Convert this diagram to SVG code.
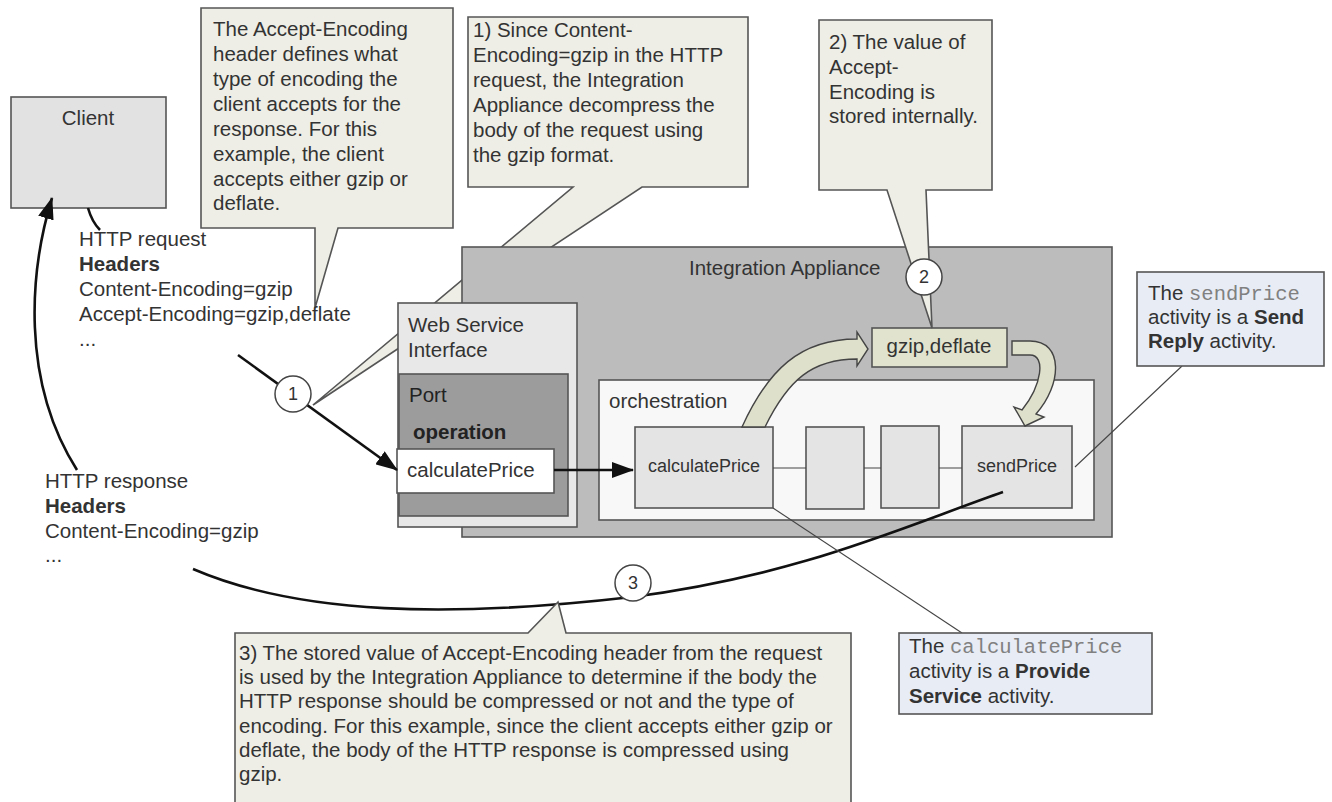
<svg xmlns="http://www.w3.org/2000/svg" width="1332" height="802" viewBox="0 0 1332 802">
<style>
text{font-family:"Liberation Sans",Arial,sans-serif;font-size:20.5px;fill:#333}
.b{font-weight:bold}
.m{font-family:"Liberation Mono","Courier New",monospace;fill:#808080}
.s{font-size:18px}
.callout{fill:#eeeee6;stroke:#555;stroke-width:1.6}
.note{fill:#e8ecf5;stroke:#555;stroke-width:1.6}
.box{stroke:#555;stroke-width:1.6}
.conn{fill:none;stroke:#111;stroke-width:2.6}
.thin{fill:none;stroke:#444;stroke-width:1.1}
.circ{fill:#fff;stroke:#444;stroke-width:1.5}
.blk{fill:#dfe0cb;stroke:#444;stroke-width:1.4}
.c{text-anchor:middle}
</style>
<defs>
<marker id="ah" markerUnits="userSpaceOnUse" viewBox="0 0 22 16" refX="21" refY="8" markerWidth="22" markerHeight="16" orient="auto">
<path d="M0,0 L22,8 L0,16 z" fill="#111"/>
</marker>
</defs>
<rect width="1332" height="802" fill="#fff"/>

<g id="callout1">
<path class="callout" d="M468,17 H748 V187 H642 L313,405 L573,187 H468 Z"/>
<text x="473" y="37">1) Since Content-</text>
<text x="473" y="62">Encoding=gzip in the HTTP</text>
<text x="473" y="87">request, the Integration</text>
<text x="473" y="112">Appliance decompress the</text>
<text x="473" y="137">body of the request using</text>
<text x="473" y="162">the gzip format.</text>
</g>

<g id="client">
<rect class="box" x="11" y="97" width="155" height="111" fill="#e2e2e2"/>
<text class="c" x="88" y="125">Client</text>
</g>

<g id="integration-appliance">
<rect class="box" x="462" y="247" width="650" height="290" fill="#bcbcbc"/>
<text x="689" y="275">Integration Appliance</text>
</g>

<g id="web-service-interface">
<rect class="box" x="398" y="303" width="179" height="224" fill="#e8e8e8"/>
<text x="408" y="332">Web Service</text>
<text x="408" y="357">Interface</text>
</g>

<g id="port">
<rect class="box" x="399" y="374" width="169" height="142" fill="#9c9c9c"/>
<text x="409" y="402" style="fill:#222">Port</text>
<text class="b" x="413" y="439" style="fill:#222">operation</text>
</g>

<g id="port-calculatePrice">
<rect class="box" x="397" y="449" width="157" height="44" fill="#fff"/>
<text x="407" y="477">calculatePrice</text>
</g>

<g id="orchestration">
<rect class="box" x="599" y="380" width="495" height="140" fill="#f8f8f8"/>
<text x="609" y="408">orchestration</text>
</g>

<g id="activity-calculatePrice">
<rect class="box" x="635" y="427" width="138" height="81" fill="#e4e4e4"/>
<text class="c s" x="704" y="472">calculatePrice</text>
</g>
<g id="activity-2">
<rect class="box" x="806" y="427" width="58" height="82" fill="#e4e4e4"/>
</g>
<g id="activity-3">
<rect class="box" x="881" y="426" width="58" height="82" fill="#e4e4e4"/>
</g>
<g id="activity-sendPrice">
<rect class="box" x="962" y="426" width="110" height="82" fill="#e4e4e4"/>
<text class="c s" x="1017" y="472">sendPrice</text>
</g>

<g id="gzip-deflate">
<rect class="box" x="872" y="328" width="135" height="39" fill="#e1e3cf"/>
<text class="c" x="939" y="353">gzip,deflate</text>
</g>

<g id="connectors">
<path class="thin" d="M773,468 H806 M864,468 H881 M939,468 H962"/>
<path class="blk" d="M742,427 C768,370 800,339 857,339 L857,332 L868,349 L857,366 L857,359 C812,359 788,380 765,427 Z"/>
<path class="blk" d="M1012,341 L1030,341 C1064,341 1062,385 1036,414 L1044,417 L1025,426 L1014,407 L1022,410 C1042,385 1046,355 1030,355 L1012,355 Z"/>
<path class="conn" d="M88,208 Q92,222 100,230"/>
<path class="conn" d="M238,355 L397,470" marker-end="url(#ah)"/>
<path class="conn" d="M554,470 L633,470" marker-end="url(#ah)"/>
<path class="conn" d="M77,470 C20,380 30,270 52,198" marker-end="url(#ah)"/>
<path class="conn" d="M193,569 C300,615 450,618 632,597 C800,575 900,528 1003,492"/>
<path class="thin" d="M1182,366 L1075,467"/>
<path class="thin" d="M962,633 L773,508"/>
</g>

<g id="callout2">
<path class="callout" d="M819,20 H992 V190 H926 L932,328 L887,190 H819 Z"/>
<text x="829" y="49">2) The value of</text>
<text x="829" y="74">Accept-</text>
<text x="829" y="99">Encoding is</text>
<text x="829" y="123">stored internally.</text>
</g>

<g id="calloutA">
<path class="callout" d="M201,8 H453 V228 H338 L315,308 L315,228 H201 Z"/>
<text x="213" y="36">The Accept-Encoding</text>
<text x="213" y="61">header defines what</text>
<text x="213" y="86">type of encoding the</text>
<text x="213" y="111">client accepts for the</text>
<text x="213" y="136">response. For this</text>
<text x="213" y="161">example, the client</text>
<text x="213" y="186">accepts either gzip or</text>
<text x="213" y="210">deflate.</text>
</g>

<g id="callout3">
<path class="callout" d="M235,633 H528 L558,602 L566,633 H851 V805 H235 Z"/>
<text x="239" y="660">3) The stored value of Accept-Encoding header from the request</text>
<text x="239" y="684">is used by the Integration Appliance to determine if the body the</text>
<text x="239" y="708">HTTP response should be compressed or not and the type of</text>
<text x="239" y="733">encoding. For this example, since the client accepts either gzip or</text>
<text x="239" y="757">deflate, the body of the HTTP response is compressed using</text>
<text x="239" y="781">gzip.</text>
</g>

<g id="request-headers">
<text x="79" y="246">HTTP request</text>
<text class="b" x="79" y="271">Headers</text>
<text x="79" y="296">Content-Encoding=gzip</text>
<text x="79" y="321">Accept-Encoding=gzip,deflate</text>
<text x="79" y="346">...</text>
</g>

<g id="response-headers">
<text x="45" y="488">HTTP response</text>
<text class="b" x="45" y="513">Headers</text>
<text x="45" y="538">Content-Encoding=gzip</text>
<text x="45" y="562">...</text>
</g>

<g id="note-sendPrice">
<rect class="note" x="1137" y="272" width="187" height="94"/>
<text x="1148" y="300">The <tspan class="m">sendPrice</tspan></text>
<text x="1148" y="324">activity is a <tspan class="b">Send</tspan></text>
<text x="1148" y="348"><tspan class="b">Reply</tspan> activity.</text>
</g>

<g id="note-calculatePrice">
<rect class="note" x="899" y="633" width="253" height="81"/>
<text x="909" y="653">The <tspan class="m">calculatePrice</tspan></text>
<text x="909" y="678">activity is a <tspan class="b">Provide</tspan></text>
<text x="909" y="703"><tspan class="b">Service</tspan> activity.</text>
</g>

<g id="step1">
<circle class="circ" cx="293" cy="394" r="18"/>
<text class="c s" x="293" y="400">1</text>
</g>
<g id="step2">
<circle class="circ" cx="924" cy="277" r="18"/>
<text class="c s" x="924" y="283">2</text>
</g>
<g id="step3">
<circle class="circ" cx="633" cy="583" r="18"/>
<text class="c s" x="633" y="589">3</text>
</g>
</svg>
